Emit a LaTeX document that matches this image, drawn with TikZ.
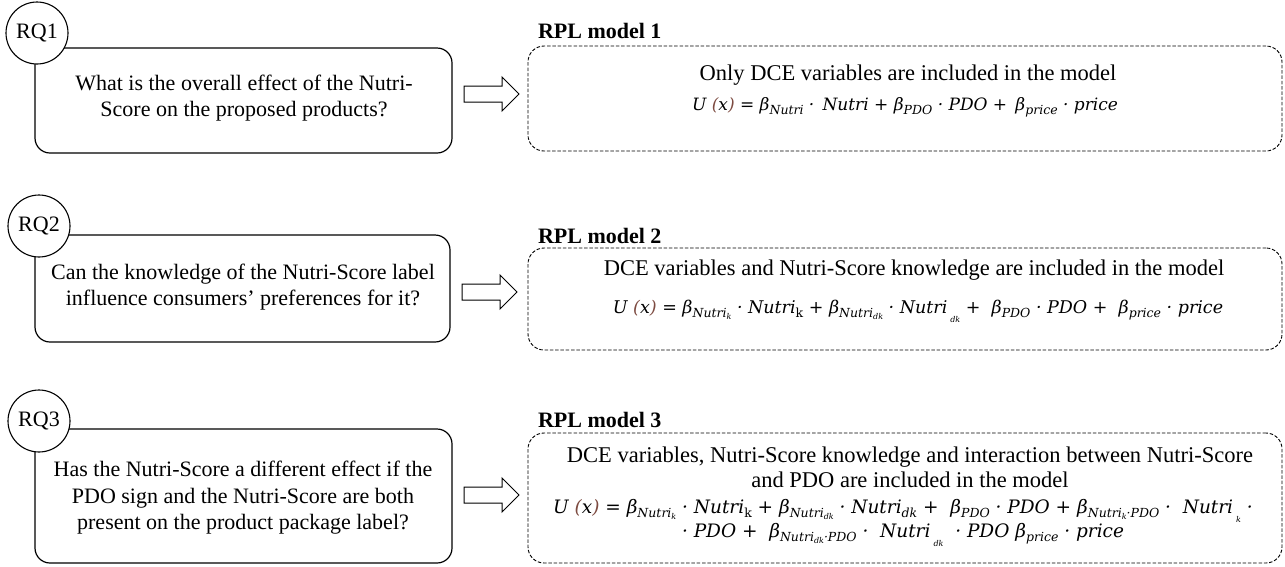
\documentclass[tikz,border=0pt]{standalone}
\usepackage{fontspec}
\setmainfont{Liberation Serif}
\newfontfamily\eqfont{DejaVu Serif}
\definecolor{parcol}{RGB}{125,75,65}
% subscripts for the utility formulas
\newcommand\lo[1]{\raisebox{-0.22em}{\fontsize{12.5}{12.5}\selectfont #1}}
\newcommand\llo[1]{\raisebox{-0.18em}{\fontsize{8}{8}\selectfont #1}}
\newcommand\lllo[1]{\raisebox{-0.5em}{\fontsize{8}{8}\selectfont #1}}
\newcommand\pc[1]{\textcolor{parcol}{#1}}
% hollow block arrow starting at a tail coordinate
\newcommand\blockarrow[1]{%
  \draw[line width=1pt, line join=miter, fill=white]
    (#1) ++(0,-8) -- ++(38,0) -- ++(0,-9) -- ++(17,17) -- ++(-17,17)
    -- ++(0,-9) -- ++(-38,0) -- cycle;}
\begin{document}
\begin{tikzpicture}[x=1pt,y=-1pt,
  every node/.style={font=\fontsize{22}{26.5}\selectfont, inner sep=0pt, outer sep=0pt},
  qbox/.style={draw, line width=1.2pt, rounded corners=15pt, rectangle},
  mbox/.style={draw, line width=0.9pt, dash pattern=on 3.5pt off 1.8pt, rounded corners=16pt, rectangle},
  rqcirc/.style={circle, draw, line width=1.1pt, fill=white, minimum size=62pt},
  modelhead/.style={font=\bfseries\fontsize{22}{26}\selectfont, anchor=west},
  qtext/.style={align=center},
  mtext/.style={align=center, font=\fontsize{22.5}{25}\selectfont},
  eqtext/.style={align=center, font=\eqfont\itshape\fontsize{18.5}{23.5}\selectfont},
]
\useasboundingbox (0,0) rectangle (1285,566);

% ---- RQ1 ----
\node[qbox, minimum width=417pt, minimum height=105pt] (q1) at (243.5,100.5) {};
\node[rqcirc] (c1) at (37,33) {RQ1};
\node[qtext] (q1t) at (244,98) {What is the overall effect of the Nutri-\\Score on the proposed products?};
\coordinate (a1) at (464,94);
\blockarrow{a1}
\node[modelhead] (l1) at (538,31) {RPL model 1};
\node[mbox, minimum width=754pt, minimum height=105pt] (m1) at (905,98.5) {};
\node[mtext] (t1) at (908,75) {Only DCE variables are included in the model};
\node[eqtext, font=\eqfont\itshape\fontsize{17}{22}\selectfont] (e1) at (905,107) {U \pc{(}x\pc{)} = β\lo{Nutri} · \,Nutri + β\lo{PDO} · PDO + \,β\lo{price} · price};

% ---- RQ2 ----
\node[qbox, minimum width=415pt, minimum height=107pt] (q2) at (242.5,288.5) {};
\node[rqcirc] (c2) at (39,226) {RQ2};
\node[qtext] (q2t) at (243,287) {Can the knowledge of the Nutri-Score label\\influence consumers’ preferences for it?};
\coordinate (a2) at (462,292);
\blockarrow{a2}
\node[modelhead] (l2) at (538,236) {RPL model 2};
\node[mbox, minimum width=754pt, minimum height=102pt] (m2) at (905,299) {};
\node[mtext] (t2) at (914,270) {DCE variables and Nutri-Score knowledge are included in the model};
\node[eqtext, font=\eqfont\itshape\fontsize{17.5}{22}\selectfont] (e2) at (918,311) {U \pc{(}x\pc{)} = β\lo{Nutri\llo{k}} · Nutri\lo{\upshape k} + β\lo{Nutri\llo{dk}} · Nutri\,\lllo{dk} + \ β\lo{PDO} · PDO + \ β\lo{price} · price};

% ---- RQ3 ----
\node[qbox, minimum width=417pt, minimum height=134pt] (q3) at (243.5,496) {};
\node[rqcirc] (c3) at (39,421) {RQ3};
\node[qtext] (q3t) at (243,498) {Has the Nutri-Score a different effect if the\\PDO sign and the Nutri-Score are both\\present on the product package label?};
\coordinate (a3) at (464,495);
\blockarrow{a3}
\node[modelhead] (l3) at (538,420) {RPL model 3};
\node[mbox, minimum width=754pt, minimum height=130pt] (m3) at (905,498) {};
\node[mtext] (t3) at (910,467) {DCE variables, Nutri-Score knowledge and interaction between Nutri-Score\\and PDO are included in the model};
\node[eqtext] (e3) at (903,523) {U \pc{(}x\pc{)} = β\lo{Nutri\llo{k}} · Nutri\lo{\upshape k} + β\lo{Nutri\llo{dk}} · Nutri\lo{dk} + \ β\lo{PDO} · PDO + β\lo{Nutri\llo{k}·PDO} · \ Nutri\,\lllo{k} ·\\
 · PDO + \ β\lo{Nutri\llo{dk}·PDO} · \ Nutri\,\lllo{dk} \ · PDO β\lo{price} · price};
\end{tikzpicture}
\end{document}
